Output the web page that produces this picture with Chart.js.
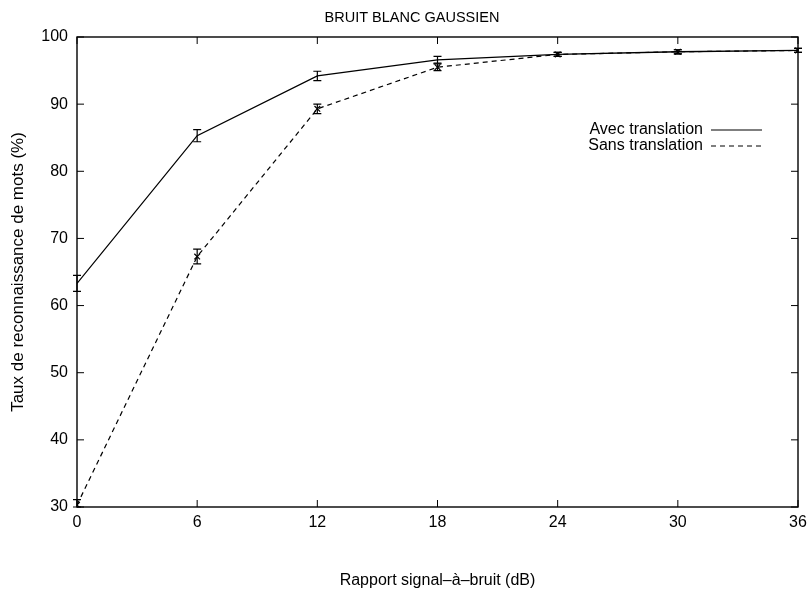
<!DOCTYPE html>
<html>
<head>
<meta charset="utf-8">
<script src="https://cdn.jsdelivr.net/npm/chart.js@4.4.0/dist/chart.umd.min.js"></script>
<style>
html,body{margin:0;padding:0;background:#fff;}
#wrap{width:807px;height:592px;}
</style>
</head>
<body>
<div id="wrap"><canvas id="c" width="807" height="592"></canvas></div>
<script>
const snrDb = [0, 6, 12, 18, 24, 30, 36];
const avecValues = [63.3, 85.3, 94.2, 96.6, 97.4, 97.8, 98.0];
const avecErrors = [1.2, 0.9, 0.7, 0.5, 0.3, 0.3, 0.3];
const sansValues = [30.3, 67.3, 89.3, 95.5, 97.4, 97.8, 98.0];
const sansErrors = [0.8, 1.1, 0.7, 0.5, 0.3, 0.3, 0.3];
const xTicks = [0, 6, 12, 18, 24, 30, 36];
const yTicks = [30, 40, 50, 60, 70, 80, 90, 100];
const titleText = 'BRUIT BLANC GAUSSIEN';
const xTitle = 'Rapport signal\u2013\u00e0\u2013bruit (dB)';
const yTitle = 'Taux de reconnaissance de mots (%)';
const labelAvec = 'Avec translation';
const labelSans = 'Sans translation';

const FONT = "'Liberation Sans', Arial, Helvetica, sans-serif";

const toPts = (xs, ys) => xs.map((x, i) => ({x: x, y: ys[i]}));

const framePlugin = {
  id: 'frame',
  afterDatasetsDraw(chart) {
    const {ctx, chartArea: a, scales: {x, y}} = chart;
    ctx.save();
    ctx.strokeStyle = '#000';
    ctx.lineWidth = 1.4;
    ctx.strokeRect(a.left, a.top, a.right - a.left, a.bottom - a.top);
    ctx.lineWidth = 1;
    const tl = 7;
    ctx.beginPath();
    xTicks.forEach(v => {
      const px = x.getPixelForValue(v);
      ctx.moveTo(px, a.bottom); ctx.lineTo(px, a.bottom - tl);
      ctx.moveTo(px, a.top); ctx.lineTo(px, a.top + tl);
    });
    yTicks.forEach(v => {
      const py = y.getPixelForValue(v);
      ctx.moveTo(a.left, py); ctx.lineTo(a.left + tl, py);
      ctx.moveTo(a.right, py); ctx.lineTo(a.right - tl, py);
    });
    ctx.stroke();

    // error bars
    chart.data.datasets.forEach(ds => {
      ctx.lineWidth = 1.2;
      ctx.setLineDash([]);
      ctx.beginPath();
      ds.data.forEach((p, i) => {
        const e = ds.errors[i];
        const px = x.getPixelForValue(p.x);
        const y1 = y.getPixelForValue(Math.min(100, p.y + e));
        const y2 = y.getPixelForValue(Math.max(30, p.y - e));
        ctx.moveTo(px, y1); ctx.lineTo(px, y2);
        ctx.moveTo(px - 4, y1); ctx.lineTo(px + 4, y1);
        ctx.moveTo(px - 4, y2); ctx.lineTo(px + 4, y2);
      });
      ctx.stroke();
    });

    // title
    ctx.fillStyle = '#000';
    ctx.font = '14.5px ' + FONT;
    ctx.textAlign = 'center';
    ctx.textBaseline = 'middle';
    ctx.fillText(titleText, 412, 18);

    // y-axis title
    ctx.save();
    ctx.font = '17px ' + FONT;
    ctx.translate(18, (a.top + a.bottom) / 2);
    ctx.rotate(-Math.PI / 2);
    ctx.fillText(yTitle, 0, 0);
    ctx.restore();

    // legend
    ctx.font = '16px ' + FONT;
    ctx.textAlign = 'right';
    const rows = [130, 146];
    chart.data.datasets.forEach((ds, i) => {
      ctx.fillText(ds.label, 703, rows[i]);
      ctx.beginPath();
      ctx.lineWidth = 1.2;
      ctx.setLineDash(ds.borderDash || []);
      ctx.moveTo(711, rows[i]); ctx.lineTo(762, rows[i]);
      ctx.stroke();
    });
    ctx.restore();
  }
};

new Chart(document.getElementById('c'), {
  type: 'line',
  data: {
    datasets: [
      {
        label: labelAvec,
        data: toPts(snrDb, avecValues),
        errors: avecErrors,
        borderColor: '#000',
        borderWidth: 1.3,
        pointRadius: 0,
        fill: false,
        tension: 0
      },
      {
        label: labelSans,
        data: toPts(snrDb, sansValues),
        errors: sansErrors,
        borderColor: '#000',
        borderWidth: 1.2,
        borderDash: [5, 4],
        pointStyle: 'crossRot',
        pointRadius: 4,
        pointBorderWidth: 1.2,
        pointBorderColor: '#000',
        fill: false,
        tension: 0
      }
    ]
  },
  options: {
    responsive: false,
    animation: false,
    events: [],
    layout: {padding: {top: 37, left: 0, right: 9, bottom: 0}},
    plugins: {
      legend: {display: false},
      title: {display: false},
      tooltip: {enabled: false}
    },
    scales: {
      x: {
        type: 'linear',
        min: 0, max: 36,
        afterBuildTicks: s => { s.ticks = xTicks.map(v => ({value: v})); },
        afterFit: s => { s.height = 85; s.paddingLeft = 0; s.paddingRight = 0; },
        grid: {display: false, drawTicks: false},
        border: {display: false},
        ticks: {color: '#000', font: {family: FONT, size: 16}, padding: 6, maxRotation: 0},
        title: {display: true, text: xTitle, color: '#000', font: {family: FONT, size: 16}, padding: {top: 0, bottom: 2}}
      },
      y: {
        type: 'linear',
        min: 30, max: 100,
        afterBuildTicks: s => { s.ticks = yTicks.map(v => ({value: v})); },
        afterFit: s => { s.width = 77; s.paddingTop = 0; s.paddingBottom = 0; },
        grid: {display: false, drawTicks: false},
        border: {display: false},
        ticks: {color: '#000', font: {family: FONT, size: 16}, padding: 9}
      }
    }
  },
  plugins: [framePlugin]
});
</script>
</body>
</html>
